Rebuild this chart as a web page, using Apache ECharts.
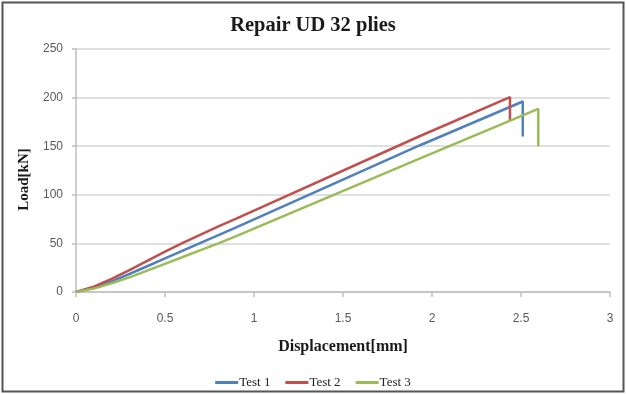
<!DOCTYPE html>
<html>
<head>
<meta charset="utf-8">
<script src="https://cdn.jsdelivr.net/npm/echarts@6/dist/echarts.min.js"></script>
<style>
html,body{margin:0;padding:0;background:#fff;}
#chart{width:626px;height:394px;}
</style>
</head>
<body>
<div id="chart"></div>
<script>
const titleText = 'Repair UD 32 plies';
const xAxisName = 'Displacement[mm]';
const yAxisName = 'Load[kN]';
const seriesNames = ['Test 1', 'Test 2', 'Test 3'];
const seriesColors = ['#4f81bd', '#c0504d', '#9bbb59'];

const test1 = [[0,0],[0.1,4.5],[0.2,11],[0.3,18.5],[0.4,26.5],[0.5,34.5],[0.6,42.5],[0.7,50.5],[0.8,58.5],[0.9,66.5],[1.933,151],[2.51,196],[2.51,160]];
const test2 = [[0,0],[0.1,5.5],[0.2,13.5],[0.3,22.5],[0.4,32],[0.5,41.5],[0.6,50.5],[0.7,59],[0.8,67.5],[0.9,75.5],[1.933,160.5],[2.438,200.5],[2.438,177]];
const test3 = [[0,0],[0.1,3.5],[0.2,9],[0.3,15],[0.4,22],[0.5,29],[0.6,36],[0.7,43],[0.8,50],[0.9,57.5],[1.933,137.5],[2.597,188.5],[2.597,150]];
const seriesData = [test1, test2, test3];

const chart = echarts.init(document.getElementById('chart'), null, {renderer:'canvas'});
const sans = "'Liberation Sans', Arial, sans-serif";
const serif = "'Liberation Serif', 'Times New Roman', serif";

chart.setOption({
  animation: false,
  backgroundColor: '#fff',
  graphic: [{
    type: 'rect', silent: true,
    shape: {x: 2.5, y: 2.5, width: 621, height: 389},
    style: {fill: 'none', stroke: '#555', lineWidth: 2}
  }],
  title: {
    text: titleText, left: 'center', top: 15, padding: 0,
    textStyle: {fontFamily: serif, fontWeight: 'bold', fontSize: 20.5, color: '#1a1a1a'}
  },
  legend: {
    top: 371, left: 'center', itemWidth: 23, itemHeight: 3, itemGap: 15,
    icon: 'rect',
    textStyle: {fontFamily: serif, fontSize: 13, color: '#222', padding: [0,0,0,-4]},
    data: seriesNames
  },
  grid: {left: 76, right: 16, top: 49, bottom: 102},
  xAxis: {
    type: 'value', min: 0, max: 3, interval: 0.5,
    name: xAxisName, nameLocation: 'middle', nameGap: 47,
    nameTextStyle: {fontFamily: serif, fontWeight: 'bold', fontSize: 16, color: '#1a1a1a'},
    axisLine: {show: true, lineStyle: {color: '#bfbfbf', width: 1.5}},
    axisTick: {show: true, length: 5, lineStyle: {color: '#bfbfbf', width: 1.5}},
    axisLabel: {margin: 21, fontFamily: sans, fontSize: 12, color: '#595959'},
    splitLine: {show: false}
  },
  yAxis: {
    type: 'value', min: 0, max: 250, interval: 50,
    name: yAxisName, nameLocation: 'middle', nameGap: 44, nameRotate: 90,
    nameTextStyle: {fontFamily: serif, fontWeight: 'bold', fontSize: 15, color: '#1a1a1a', padding: [0, 18, 0, 0]},
    axisLine: {show: true, lineStyle: {color: '#bfbfbf', width: 1.5}},
    axisTick: {show: true, length: 4, lineStyle: {color: '#bfbfbf', width: 1.5}},
    axisLabel: {margin: 13, fontFamily: sans, fontSize: 12, color: '#595959'},
    splitLine: {show: true, lineStyle: {color: '#d4d4d4', width: 1.5}}
  },
  series: seriesNames.map((n, i) => ({
    name: n, type: 'line', data: seriesData[i], showSymbol: false, symbol: 'none',
    color: seriesColors[i],
    lineStyle: {width: 2.5, color: seriesColors[i]}
  }))
});
</script>
</body>
</html>
